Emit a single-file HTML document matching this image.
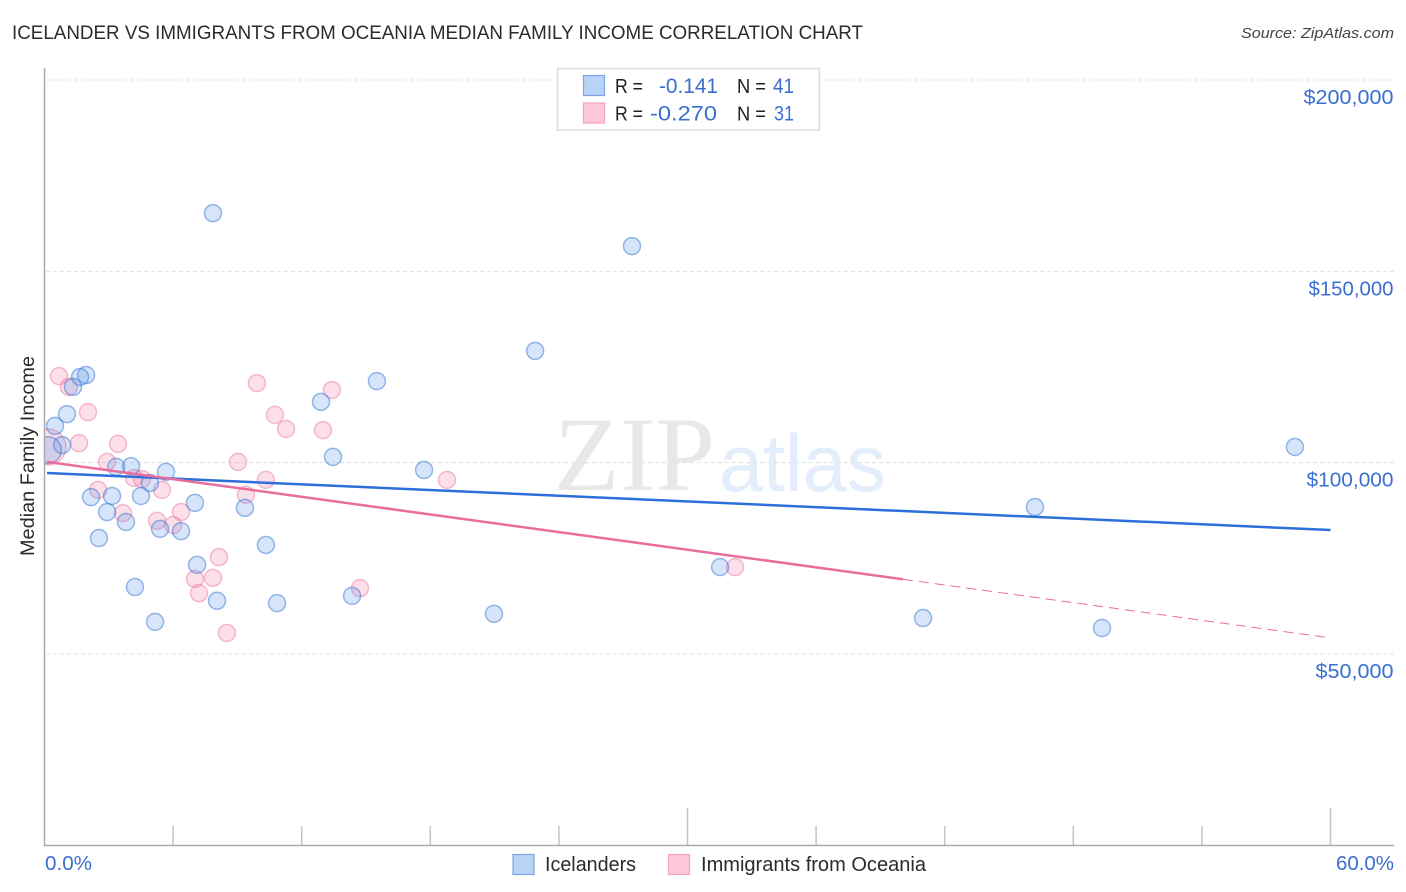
<!DOCTYPE html>
<html lang="en">
<head>
<meta charset="utf-8">
<title>Icelander vs Immigrants from Oceania Median Family Income Correlation Chart</title>
<style>
html,body{margin:0;padding:0;background:#fff;width:1406px;height:892px;overflow:hidden}
svg{display:block;font-family:"Liberation Sans",sans-serif}
</style>
</head>
<body>
<svg id="chart" xmlns="http://www.w3.org/2000/svg" width="1406" height="892" viewBox="0 0 1406 892">
  <defs>
    <clipPath id="plot-clip"><rect x="45" y="60" width="1360" height="785"/></clipPath>
  </defs>
  <text x="12" y="39" font-size="19" fill="#2b2b2b" textLength="851" lengthAdjust="spacingAndGlyphs">ICELANDER VS IMMIGRANTS FROM OCEANIA MEDIAN FAMILY INCOME CORRELATION CHART</text>
  <text x="1241" y="38" font-size="15" font-style="italic" fill="#444" textLength="153" lengthAdjust="spacingAndGlyphs">Source: ZipAtlas.com</text>

  <g>
    <text x="554" y="490" font-family="'Liberation Serif',serif" font-size="106" fill="#e8e8e8" textLength="161" lengthAdjust="spacingAndGlyphs">ZIP</text>
    <text x="719" y="491" font-family="'Liberation Sans',sans-serif" font-size="81" fill="#e4edfb" textLength="167" lengthAdjust="spacingAndGlyphs">atlas</text>
  </g>

  <g id="grid"></g>
  <g id="ticks"></g>
  <line x1="44.5" y1="68" x2="44.5" y2="846" stroke="#aaa" stroke-width="1.5"/>
  <line x1="44" y1="845.5" x2="1394" y2="845.5" stroke="#aaa" stroke-width="1.5"/>

  <g id="points" clip-path="url(#plot-clip)"></g>
  <g id="trends"></g>
  <g id="ylabels"></g>
  <g id="xlabels"></g>

  <text transform="translate(34 556) rotate(-90)" font-size="19" fill="#2b2b2b" textLength="200" lengthAdjust="spacingAndGlyphs">Median Family Income</text>

  <g>
    <rect x="557.5" y="68.5" width="262" height="61.5" fill="#fff" stroke="#ddd" stroke-width="1.5"/>
    <rect x="583.5" y="75.5" width="21" height="20" fill="#b9d3f7" stroke="#7ba5e3" stroke-width="1.2"/>
    <rect x="583.5" y="103" width="21" height="20" fill="#fcc8da" stroke="#f3a3bf" stroke-width="1.2"/>
    <text x="615" y="93" font-size="20" fill="#222" textLength="28" lengthAdjust="spacingAndGlyphs">R =</text>
    <text x="659" y="93" font-size="21" fill="#3a6fd0" textLength="59" lengthAdjust="spacingAndGlyphs">-0.141</text>
    <text x="737" y="93" font-size="20" fill="#222" textLength="29" lengthAdjust="spacingAndGlyphs">N =</text>
    <text x="773" y="93" font-size="21" fill="#3a6fd0" textLength="21" lengthAdjust="spacingAndGlyphs">41</text>
    <text x="615" y="120.5" font-size="20" fill="#222" textLength="28" lengthAdjust="spacingAndGlyphs">R =</text>
    <text x="650" y="120.5" font-size="21" fill="#3a6fd0" textLength="67" lengthAdjust="spacingAndGlyphs">-0.270</text>
    <text x="737" y="120.5" font-size="20" fill="#222" textLength="29" lengthAdjust="spacingAndGlyphs">N =</text>
    <text x="774" y="120.5" font-size="21" fill="#3a6fd0" textLength="20" lengthAdjust="spacingAndGlyphs">31</text>
  </g>

  <g>
    <rect x="513" y="854.5" width="21" height="20" fill="#b9d3f7" stroke="#7ba5e3" stroke-width="1.2"/>
    <text x="545" y="871" font-size="20" fill="#2b2b2b" textLength="91" lengthAdjust="spacingAndGlyphs">Icelanders</text>
    <rect x="668.5" y="854.5" width="21" height="20" fill="#fcc8da" stroke="#f3a3bf" stroke-width="1.2"/>
    <text x="701" y="871" font-size="20" fill="#2b2b2b" textLength="225" lengthAdjust="spacingAndGlyphs">Immigrants from Oceania</text>
  </g>
</svg>

<script>
// ---- data ----
const yTickValues = [50000, 100000, 150000, 200000];
const yTickLabels = ["$50,000", "$100,000", "$150,000", "$200,000"];
const xTickValues = [0, 6, 12, 18, 24, 30, 36, 42, 48, 54, 60];
const xMajorTicks = [30, 60];
const xEdgeValues = [0, 60];
const xEdgeLabels = ["0.0%", "60.0%"];

const icelanderShare = [7.86,27.41,22.89,15.51,1.94,1.66,1.33,12.90,1.05,0.49,0.82,0.16,13.46,17.71,58.34,46.21,5.67,4.04,3.34,4.92,2.17,3.15,4.50,2.92,3.80,7.02,9.35,2.54,5.39,6.37,10.33,7.12,4.22,31.52,8.05,10.85,14.35,5.16,20.97,40.99,49.34];
const icelanderIncome = [165200,156600,129200,121300,122900,122400,119800,115900,112700,109600,104600,103300,101500,98100,104100,88400,97600,99100,98900,94700,91000,91300,91300,87100,84500,89500,88200,80300,82700,82100,78500,73300,67500,72700,63900,63300,65200,58400,60500,59400,56800];
const icelanderWeight = [1,1,1,1,1,1,1,1,1,1,1,2.5,1,1,1,1,1,1,1,1,1,1,1,1,1,1,1,1,1,1,1,1,1,1,1,1,1,1,1,1,1];

const oceaniaShare = [0.68,1.14,2.03,1.61,3.43,2.92,2.50,4.18,4.55,5.48,3.66,5.25,6.00,6.37,9.91,10.75,11.27,9.03,10.33,9.40,0.16,8.14,7.02,7.86,7.21,8.51,14.72,13.41,12.99,18.78,32.22];
const oceaniaIncome = [122600,119800,113200,105100,104900,100200,92900,96000,95700,92900,86800,84800,83700,87100,120800,112500,108800,100200,95500,91600,104100,75300,69600,69900,65900,55500,67200,119000,108500,95500,72700];
const oceaniaWeight = [1,1,1,1,1,1,1,1,1,1,1,1,1,1,1,1,1,1,1,1,4.5,1,1,1,1,1,1,1,1,1,1];

const icelanderTrendX = [0.12, 60];
const icelanderTrendY = [97300, 82400];
const oceaniaTrendX = [0.12, 40.05];
const oceaniaTrendY = [100200, 69530];
const oceaniaDashX = [40.05, 60];
const oceaniaDashY = [69530, 54200];

// ---- axis functions ----
function xScale(v){ return 44.5 + v * (1330.5 - 44.5) / 60; }
function yScale(v){ return 654 - (v - 50000) * (654 - 80) / 150000; }

const NS = "http://www.w3.org/2000/svg";
function make(tag, parentId){
  const el = document.createElementNS(NS, tag);
  document.getElementById(parentId).appendChild(el);
  return el;
}

// label fitting widths (style, not data)
function yLabelWidth(i){ return 78 + i * (i === 3 ? 4 : (i === 2 ? 3.5 : 9)); }

// gridlines and y labels
yTickValues.forEach(function(v, i){
  const g = make("line", "grid");
  
  
  g.setAttribute("x1", 46);
  g.setAttribute("x2", 1394);
  g.setAttribute("y1", yScale(v));
  g.setAttribute("y2", yScale(v));
  g.setAttribute("stroke", "#e0e0e0");
  g.setAttribute("stroke-width", "1");
  g.setAttribute("stroke-dasharray", "4 3");

  const t = make("text", "ylabels");
  
  
  t.setAttribute("x", 1393.5);
  t.setAttribute("y", yScale(v) + 24);
  t.setAttribute("text-anchor", "end");
  t.setAttribute("font-size", "20.5");
  t.setAttribute("fill", "#3a6fd0");
  t.setAttribute("textLength", yLabelWidth(i));
  t.setAttribute("lengthAdjust", "spacingAndGlyphs");
  t.textContent = yTickLabels[i];
});

// x ticks
xTickValues.forEach(function(v){
  if (v === 0) return;
  const l = make("line", "ticks");
  
  
  l.setAttribute("x1", xScale(v));
  l.setAttribute("x2", xScale(v));
  l.setAttribute("y1", xMajorTicks.indexOf(v) >= 0 ? 808 : 826);
  l.setAttribute("y2", 845);
  l.setAttribute("stroke", "#c4c4c4");
  l.setAttribute("stroke-width", "1.5");
});

// x labels
xEdgeValues.forEach(function(v, i){
  const t = make("text", "xlabels");
  
  
  t.setAttribute("x", i === 0 ? xScale(v) + 0.5 : xScale(v) + 63.5);
  t.setAttribute("y", 870);
  t.setAttribute("text-anchor", i === 0 ? "start" : "end");
  t.setAttribute("font-size", "20.5");
  t.setAttribute("fill", "#3a6fd0");
  t.setAttribute("textLength", i === 0 ? 47 : 58);
  t.setAttribute("lengthAdjust", "spacingAndGlyphs");
  t.textContent = xEdgeLabels[i];
});

// points
function drawPink(i){
  const c = make("circle", "points");
  
  
  c.setAttribute("cx", xScale(oceaniaShare[i]));
  c.setAttribute("cy", yScale(oceaniaIncome[i]));
  c.setAttribute("r", 8.5 * Math.sqrt(oceaniaWeight[i]));
  c.setAttribute("fill", "rgba(246,130,170,0.26)");
  c.setAttribute("stroke", "rgba(232,110,155,0.45)");
  c.setAttribute("stroke-width", "1.5");
}
function drawBlue(i){
  const c = make("circle", "points");
  
  
  c.setAttribute("cx", xScale(icelanderShare[i]));
  c.setAttribute("cy", yScale(icelanderIncome[i]));
  c.setAttribute("r", 8.5 * Math.sqrt(icelanderWeight[i]));
  c.setAttribute("fill", "rgba(90,150,235,0.25)");
  c.setAttribute("stroke", "rgba(45,110,210,0.48)");
  c.setAttribute("stroke-width", "1.5");
}
oceaniaShare.forEach(function(_, i){ drawPink(i); });
icelanderShare.forEach(function(_, i){ drawBlue(i); });

// trend lines
const blueLine = make("line", "trends");


blueLine.setAttribute("x1", xScale(icelanderTrendX[0]));
blueLine.setAttribute("y1", yScale(icelanderTrendY[0]));
blueLine.setAttribute("x2", xScale(icelanderTrendX[1]));
blueLine.setAttribute("y2", yScale(icelanderTrendY[1]));
blueLine.setAttribute("stroke", "#2a70d8");
blueLine.setAttribute("stroke-width", "2.5");

const pinkLine = make("line", "trends");


pinkLine.setAttribute("x1", xScale(oceaniaTrendX[0]));
pinkLine.setAttribute("y1", yScale(oceaniaTrendY[0]));
pinkLine.setAttribute("x2", xScale(oceaniaTrendX[1]));
pinkLine.setAttribute("y2", yScale(oceaniaTrendY[1]));
pinkLine.setAttribute("stroke", "#e96d9d");
pinkLine.setAttribute("stroke-width", "2.5");

const pinkDash = make("line", "trends");


pinkDash.setAttribute("x1", xScale(oceaniaDashX[0]));
pinkDash.setAttribute("y1", yScale(oceaniaDashY[0]));
pinkDash.setAttribute("x2", xScale(oceaniaDashX[1]));
pinkDash.setAttribute("y2", yScale(oceaniaDashY[1]));
pinkDash.setAttribute("stroke", "#e96d9d");
pinkDash.setAttribute("stroke-width", "1");
pinkDash.setAttribute("stroke-dasharray", "10 6");
</script>
</body>
</html>
